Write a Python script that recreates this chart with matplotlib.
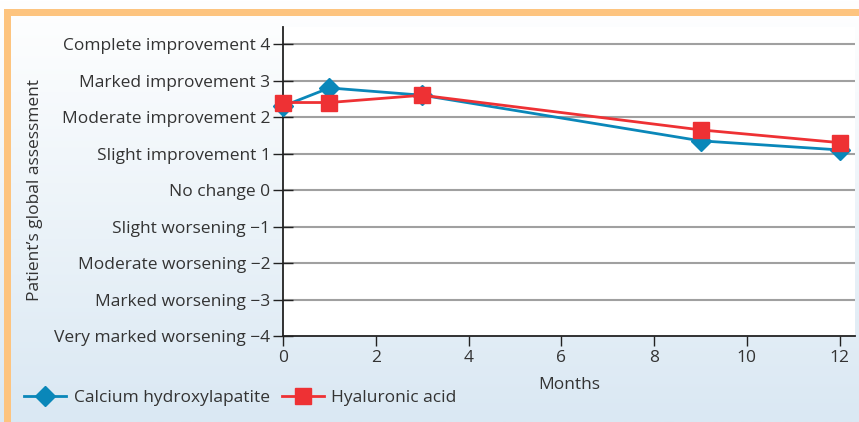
import matplotlib
matplotlib.use("Agg")
import matplotlib.pyplot as plt
import numpy as np

plt.rcParams['font.family'] = ['Open Sans', 'DejaVu Sans']

# Data
months = [0, 1, 3, 9, 12]
calcium = [2.3, 2.8, 2.6, 1.35, 1.1]
hyaluronic = [2.4, 2.4, 2.6, 1.65, 1.3]

y_ticks = [4, 3, 2, 1, 0, -1, -2, -3, -4]
y_labels = ['Complete improvement 4', 'Marked improvement 3', 'Moderate improvement 2',
            'Slight improvement 1', 'No change 0', 'Slight worsening \u22121',
            'Moderate worsening \u22122', 'Marked worsening \u22123',
            'Very marked worsening \u22124']
x_ticks = [0, 2, 4, 6, 8, 10, 12]

blue = '#0a87b9'
red = '#ee3134'
text_col = '#333333'
fs = 12.5

fig = plt.figure(figsize=(8.59, 4.22), dpi=100)

# background gradient
bg = fig.add_axes([0, 0, 1, 1], zorder=-10)
grad = np.linspace(0, 1, 256).reshape(-1, 1)
top = np.array([1.0, 1.0, 1.0])
bot = np.array([0xda, 0xe8, 0xf3]) / 255
img = top + (bot - top) * grad[:, :, None]
bg.imshow(img, aspect='auto', extent=[0, 1, 0, 1], origin='upper')
# orange borders
bg.add_patch(plt.Rectangle((4/859, 0), 7/859, 1 - 9/422, color='#fdc47f', lw=0))
bg.add_patch(plt.Rectangle((4/859, 1 - 16/422), 1, 7/422, color='#fdc47f', lw=0))
bg.set_xlim(0, 1)
bg.set_ylim(0, 1)
bg.axis('off')

ax = fig.add_axes([283/859, 1 - 336/422, 572/859, 309/422])
ax.set_facecolor('white')
for y in y_ticks[:-1]:
    ax.axhline(y, color='#a0a0a0', lw=1.5, zorder=1)

ax.plot(months, calcium, color=blue, lw=2, marker='D', ms=10, label='Calcium hydroxylapatite',
        zorder=3, clip_on=False)
ax.plot(months, hyaluronic, color=red, lw=2, marker='s', ms=11, label='Hyaluronic acid',
        zorder=4, clip_on=False)

ax.set_xlim(0, 12.33)
ax.set_ylim(-4, 4.47)
ax.set_yticks(y_ticks)
ax.set_yticklabels(y_labels, fontsize=fs, color=text_col)
ax.set_xticks(x_ticks)
ax.set_xticklabels([str(t) for t in x_ticks], fontsize=fs, color=text_col)
ax.tick_params(axis='y', direction='inout', length=14, width=1, color='#222222', pad=2)
ax.tick_params(axis='x', direction='out', length=7, width=1, color='#222222', pad=3)
ax.spines['top'].set_visible(False)
ax.spines['right'].set_visible(False)
ax.spines['left'].set_color('#222222')
ax.spines['bottom'].set_color('#222222')
ax.spines['left'].set_linewidth(1.3)
ax.spines['bottom'].set_linewidth(1.3)
ax.set_xlabel('Months', fontsize=fs, color=text_col, labelpad=8)

fig.text(35/859, 1 - 190/422, 'Patient\u2019s global assessment', rotation=90, fontsize=fs,
         color=text_col, ha='center', va='center')

fig.legend(loc='center left', bbox_to_anchor=(0.01, 0.056), ncol=2, frameon=False,
           fontsize=fs, handlelength=2.4, columnspacing=0.7, handletextpad=0.45,
           labelcolor=text_col)

fig.savefig('out.png', dpi=100)
